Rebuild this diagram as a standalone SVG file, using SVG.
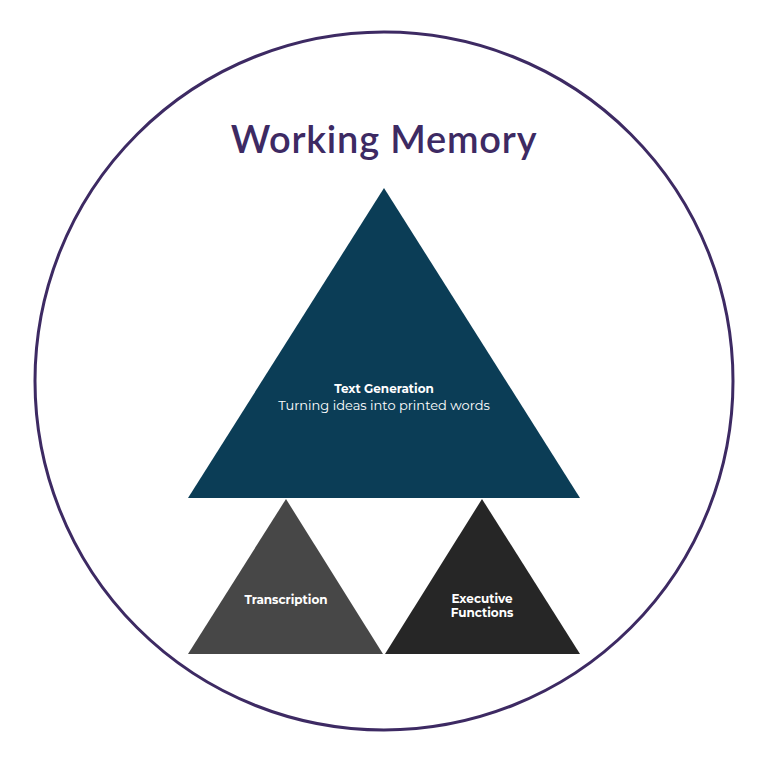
<svg xmlns="http://www.w3.org/2000/svg" width="768" height="765" viewBox="0 0 768 765">
<style>
.t{font-family:"Montserrat","Lato","Liberation Sans",sans-serif;fill:#fff;text-anchor:middle}
.b{font-weight:bold;font-size:12px}
</style>
<rect width="768" height="765" fill="#fff"/>
<g id="circle"><circle cx="384" cy="381" r="349" fill="none" stroke="#3d2a63" stroke-width="3"/></g>
<g id="title"><text x="384" y="153" font-family="Lato,'Liberation Sans',sans-serif" font-weight="600" font-size="38" letter-spacing="0.8" fill="#3d2a63" text-anchor="middle">Working Memory</text></g>
<g id="text-generation">
<polygon points="384,188 580,498 188,498" fill="#0b3d56"/>
<text class="t b" x="384" y="393">Text Generation</text>
<text class="t" x="384" y="410" font-size="13">Turning ideas into printed words</text>
</g>
<g id="transcription">
<polygon points="286,499 383,654 188,654" fill="#474747"/>
<text class="t b" x="286" y="604">Transcription</text>
</g>
<g id="executive-functions">
<polygon points="482,499 580,654 385,654" fill="#262626"/>
<text class="t b" x="482" y="603">Executive</text>
<text class="t b" x="482" y="617">Functions</text>
</g>
<g id="connectors"/>
</svg>
